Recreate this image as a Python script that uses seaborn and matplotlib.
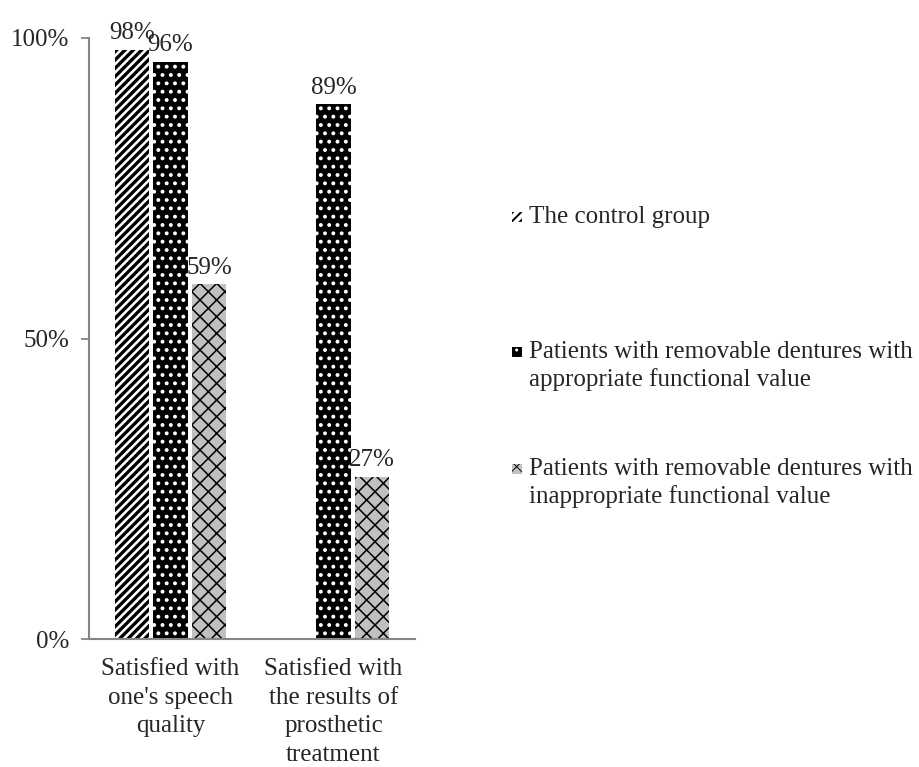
import numpy as np
import pandas as pd
import matplotlib
matplotlib.use("Agg")
import matplotlib.pyplot as plt
from matplotlib.patches import Rectangle
import seaborn as sns

categories = ["Satisfied with\none's speech\nquality",
              "Satisfied with\nthe results of\nprosthetic\ntreatment"]
groups = ["The control group",
          "Patients with removable dentures with\nappropriate functional value",
          "Patients with removable dentures with\ninappropriate functional value"]
control = [98, np.nan]
appropriate = [96, 89]
inappropriate = [59, 27]
y_ticks = [0, 50, 100]
y_tick_labels = ["0%", "50%", "100%"]

sns.set_theme(style="white")
plt.rcParams["font.family"] = ["Liberation Serif", "DejaVu Serif"]
plt.rcParams["hatch.linewidth"] = 1.0

rows = []
for series, name in zip([control, appropriate, inappropriate], groups):
    for cat, v in zip(categories, series):
        rows.append({"category": cat, "group": name, "value": v})
df = pd.DataFrame(rows)

# face colour, hatch colour, hatch pattern, hatch width
styles = [("white", "black", "////", 2.4),
          ("black", "white", "..", 1.6),
          ("#c0c0c0", "black", "xx", 1.1)]

fig = plt.figure(figsize=(9.2, 7.67), dpi=100)
ax = fig.add_axes([89 / 920, 1 - 639 / 767, (415 - 89) / 920, (639 - 38) / 767])

sns.barplot(data=df, x="category", y="value", hue="group", order=categories,
            hue_order=groups, errorbar=None, width=0.712, gap=0.12,
            legend=False, ax=ax)


def style_patch(p, face, hcol, hatch, hlw, lw=0):
    p.set_facecolor(face)
    p.set_edgecolor(hcol)
    p.set_hatch(hatch)
    p.set_linewidth(lw)
    if hasattr(p, "set_hatch_linewidth"):
        p.set_hatch_linewidth(hlw)
    else:
        p._hatch_linewidth = hlw


for container, (face, hcol, hatch, hlw), series in zip(ax.containers, styles,
                                                     [control, appropriate, inappropriate]):
    for bar, v in zip(container, series):
        style_patch(bar, face, hcol, hatch, hlw)
        if not np.isnan(v):
            ax.annotate(f"{v:.0f}%", (bar.get_x() + bar.get_width() / 2, v),
                        xytext=(0, 4), textcoords="offset points",
                        ha="center", va="bottom", fontsize=18)

ax.set_ylim(0, 100)
ax.set_xlim(-0.5, 1.5)
ax.set_yticks(y_ticks)
ax.set_yticklabels(y_tick_labels)
ax.set_xlabel("")
ax.set_ylabel("")
ax.tick_params(axis="y", which="major", left=True, length=6, width=1.3,
               color="#868686", labelsize=18, pad=8)
ax.tick_params(axis="x", bottom=False, labelsize=18, pad=8)
for lbl in ax.get_xticklabels():
    lbl.set_linespacing(1.38)
for side in ["top", "right"]:
    ax.spines[side].set_visible(False)
for side in ["left", "bottom"]:
    ax.spines[side].set_color("#868686")
    ax.spines[side].set_linewidth(1.5)

# legend entries on the right
legend_pos = [(217, False), (366, True), (483, True)]
for (yc, two), name, (face, hcol, hatch, hlw) in zip(legend_pos, groups, styles):
    y_marker = yc - 14 if two else yc
    r = Rectangle((512 / 920, 1 - (y_marker + 5) / 767), 10 / 920, 10 / 767,
                  transform=fig.transFigure)
    style_patch(r, face, hcol, hatch, hlw * 0.6)
    fig.add_artist(r)
    fig.text(529 / 920, 1 - yc / 767, name, ha="left", va="center",
             fontsize=18, linespacing=1.27)

fig.savefig("out.png", dpi=100, facecolor="white")
